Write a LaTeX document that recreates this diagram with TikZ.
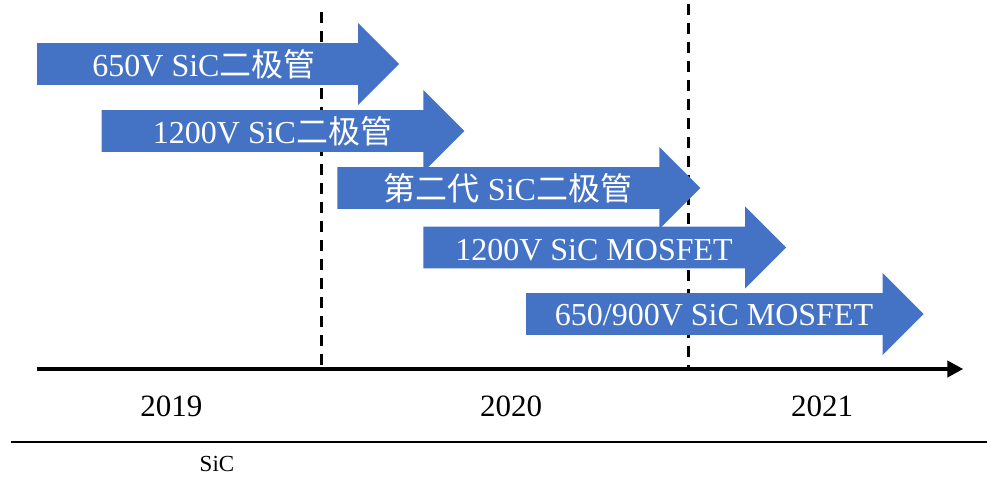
\documentclass[tikz,border=0pt]{standalone}
\usepackage{fontspec}
\setmainfont{Liberation Serif}
\newfontfamily\cjk{Noto Sans CJK SC}
\usetikzlibrary{arrows.meta}
\definecolor{pptblue}{HTML}{4472C4}
\tikzset{
  arrowfill/.style={fill=pptblue, draw=none},
  lbl/.style={text=white, inner sep=0pt, anchor=base, font=\fontsize{32}{38}\selectfont},
  yearlbl/.style={text=black, inner sep=0pt, anchor=base, font=\fontsize{31}{36}\selectfont},
  notelbl/.style={text=black, inner sep=0pt, anchor=base, font=\fontsize{23}{28}\selectfont},
  divider/.style={draw=black, line width=3pt, dash pattern=on 11pt off 8pt},
  axisline/.style={draw=black, line width=4pt, -{Triangle[length=16pt,width=16pt]}},
  rule/.style={draw=black, line width=2pt}
}
\newcommand{\blockarrow}[3]{%
  \fill[arrowfill] (#1,#3-20.8) -- (#2,#3-20.8) -- (#2,#3-41) -- (#2+41,#3)
    -- (#2,#3+41) -- (#2,#3+20.8) -- (#1,#3+20.8) -- cycle;}
\begin{document}
\begin{tikzpicture}[x=1pt,y=-1pt]
\useasboundingbox (0,0) rectangle (987,480);
\fill[white] (0,0) rectangle (987,480);
% dashed dividers
\coordinate (d1top) at (321.7,12);
\coordinate (d1bot) at (321.7,367);
\coordinate (d2top) at (688.3,4);
\coordinate (d2bot) at (688.3,367);
\draw[divider] (d1top) -- (d1bot);
\draw[divider] (d2top) -- (d2bot);
% block arrows
\blockarrow{37}{358}{64}
\blockarrow{101.5}{423.3}{131}
\blockarrow{337.3}{659.3}{188}
\blockarrow{423.3}{745}{247.5}
\blockarrow{526}{882.7}{314}
% labels
\node[lbl] (t1) at (204,76.5) {650V SiC{\cjk 二极管}};
\node[lbl] (t2) at (272.5,143.3) {1200V SiC{\cjk 二极管}};
\node[lbl] (t3) at (508,200) {{\cjk 第二代} SiC{\cjk 二极管}};
\node[lbl] (t4) at (594,260) {1200V SiC MOSFET};
\node[lbl] (t5) at (714,325.7) {650/900V SiC MOSFET};
% time axis
\coordinate (axL) at (36.7,369);
\coordinate (axR) at (963.3,369);
\draw[axisline] (axL) -- (axR);
\node[yearlbl] (y19) at (171.3,416.7) {2019};
\node[yearlbl] (y20) at (511,416.7) {2020};
\node[yearlbl] (y21) at (822,416.7) {2021};
% bottom rule and note
\coordinate (rL) at (11,441.7);
\coordinate (rR) at (987,441.7);
\draw[rule] (rL) -- (rR);
\node[notelbl] (note) at (217,471.7) {SiC};
\end{tikzpicture}
\end{document}
